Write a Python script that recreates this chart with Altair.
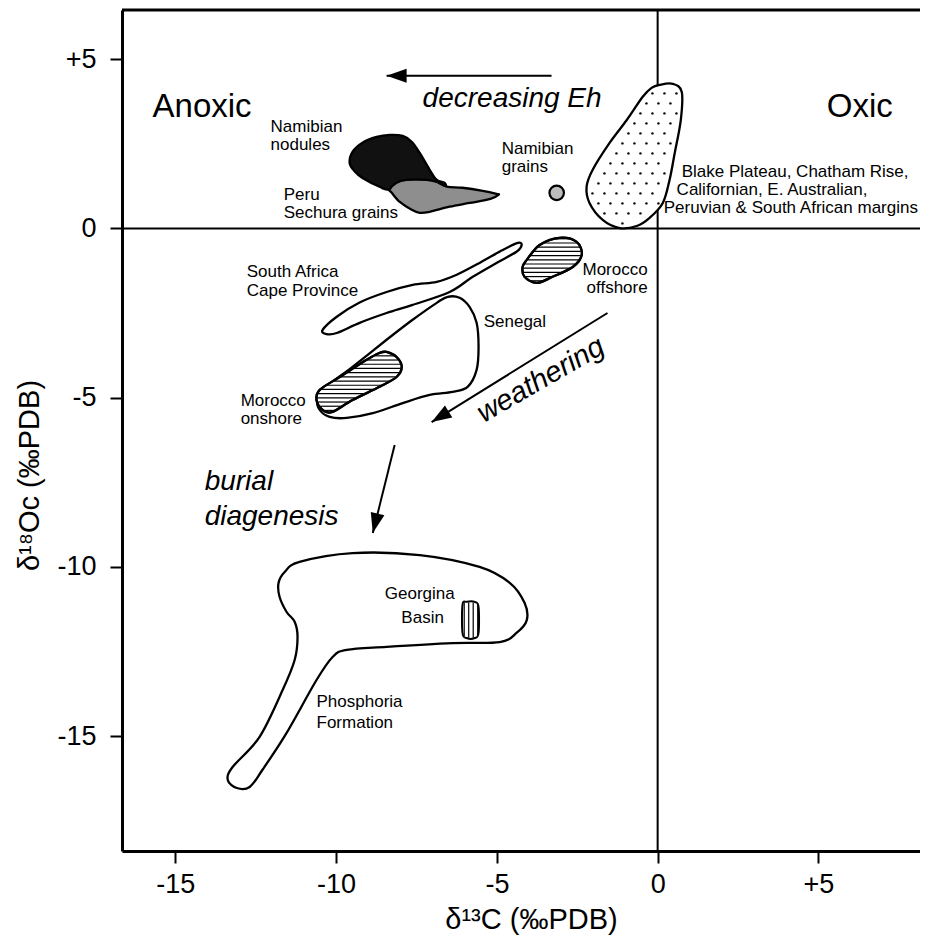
import numpy as np
import pandas as pd
import altair as alt

# ---------------- axes ----------------
X_DOMAIN = [-16.66, 8.16]
Y_DOMAIN = [-18.39, 6.45]
PLOT_W, PLOT_H = 798, 841
TICKS = [-15, -10, -5, 0, 5]
FONT = "Liberation Sans"

# ---------------- field outlines (δ13C, δ18O ‰ PDB) ----------------
nodules_c = [-9.58, -9.49, -9.18, -8.74, -8.34, -7.93, -7.65, -7.40, -7.09, -6.87, -6.62, -6.69, -7.62, -8.34, -8.65, -9.18, -9.42]
nodules_o = [1.93, 2.26, 2.53, 2.70, 2.76, 2.73, 2.56, 2.23, 1.73, 1.43, 1.34, 1.20, 1.23, 1.14, 1.23, 1.49, 1.68]

peru_c = [-8.34, -8.12, -7.81, -7.19, -6.87, -6.56, -6.07, -5.44, -5.01, -4.95, -5.20, -5.85, -6.47, -7.09, -7.40, -7.65, -8.02, -8.27]
peru_o = [1.14, 1.35, 1.43, 1.43, 1.37, 1.23, 1.20, 1.11, 1.02, 0.99, 0.87, 0.75, 0.64, 0.49, 0.46, 0.55, 0.78, 1.05]

blake_c = [0.06, 0.47, 0.75, 0.72, 0.53, 0.37, 0.16, -0.25, -0.65, -1.18, -1.71, -2.12, -2.21, -2.02, -1.49, -0.96, -0.47, -0.19]
blake_o = [4.24, 4.27, 4.03, 3.20, 2.22, 1.43, 0.75, 0.31, 0.07, 0.01, 0.25, 0.75, 1.23, 1.73, 2.53, 3.20, 3.88, 4.15]

safrica_c = [-10.42, -9.98, -9.27, -8.43, -7.62, -6.87, -6.25, -5.54, -4.82, -4.35, -4.23, -4.39, -5.01, -5.75, -6.47, -7.62, -8.43, -9.27, -9.98, -10.30]
safrica_o = [-3.00, -2.61, -2.19, -1.88, -1.67, -1.58, -1.37, -1.02, -0.64, -0.43, -0.49, -0.69, -1.02, -1.43, -1.88, -2.26, -2.50, -2.79, -3.09, -3.12]

senegal_c = [-6.53, -6.16, -5.85, -5.63, -5.57, -5.63, -5.91, -6.38, -7.09, -7.93, -8.86, -9.67, -10.20, -10.51, -10.58, -10.30, -9.49, -8.43, -7.62, -6.87]
senegal_o = [-2.02, -2.05, -2.32, -2.79, -3.50, -4.18, -4.68, -4.83, -4.92, -5.16, -5.46, -5.60, -5.57, -5.36, -5.07, -4.68, -4.09, -3.29, -2.70, -2.20]

moron_c = [-8.43, -8.12, -7.96, -8.12, -8.65, -9.49, -10.11, -10.42, -10.61, -10.51, -9.89, -9.05, -8.65]
moron_o = [-3.65, -3.80, -4.09, -4.39, -4.68, -5.07, -5.42, -5.36, -5.07, -4.77, -4.39, -3.88, -3.68]

moroff_c = [-4.07, -3.67, -3.05, -2.52, -2.36, -2.64, -3.27, -3.76, -4.14, -4.20]
moroff_o = [-0.93, -0.49, -0.28, -0.40, -0.78, -1.14, -1.43, -1.61, -1.43, -1.14]

phos_c = [-11.14, -9.49, -7.40, -5.54, -4.60, -4.14, -4.07, -4.39, -4.91, -6.38, -8.43, -9.67, -10.11, -10.61,
          -11.54, -12.29, -12.69, -13.09, -13.37, -13.22, -12.38, -11.66, -11.29, -11.20, -11.29, -11.54, -11.76, -11.79, -11.60]
phos_o = [-9.85, -9.59, -9.65, -10.00, -10.47, -11.06, -11.57, -11.95, -12.22, -12.25, -12.36, -12.45, -12.66, -13.34,
          -14.90, -15.99, -16.50, -16.53, -16.29, -15.91, -15.02, -13.63, -12.75, -12.07, -11.62, -11.33, -10.88, -10.47, -10.15]

georgina_c = [-6.07, -5.94, -5.69, -5.57, -5.57, -5.69, -5.94, -6.07]
georgina_o = [-11.12, -11.03, -11.03, -11.18, -11.95, -12.10, -12.10, -11.95]

grains_c = [-3.14]
grains_o = [1.05]

# ---------------- labels ----------------
small_left_text = ["Namibian", "nodules", "Peru", "Sechura grains", "Namibian", "grains",
                   "Blake Plateau, Chatham Rise,", "Californian, E. Australian,", "Peruvian & South African margins",
                   "South Africa", "Cape Province", "Senegal", "Morocco", "onshore", "Phosphoria", "Formation"]
small_left_c = [-12.04, -12.04, -11.63, -11.63, -4.85, -4.85, 0.75, 0.59, 0.19,
                -12.78, -12.78, -5.41, -12.97, -12.97, -10.61, -10.61]
small_left_o = [2.85, 2.32, 0.83, 0.30, 2.20, 1.67, 1.52, 0.99, 0.46,
                -1.43, -1.99, -2.91, -5.24, -5.78, -14.14, -14.76]

small_right_text = ["Morocco", "offshore"]
small_right_c = [-0.31, -0.31]
small_right_o = [-1.37, -1.91]

small_center_text = ["Georgina", "Basin"]
small_center_c = [-7.40, -7.31]
small_center_o = [-10.94, -11.65]

big_text = ["Anoxic", "Oxic"]
big_c = [-15.71, 5.26]
big_o = [3.29, 3.29]

italic_text = ["decreasing Eh", "burial", "diagenesis"]
italic_c = [-7.31, -14.09, -14.09]
italic_o = [3.59, -7.73, -8.76]

weather_text = ["weathering"]
weather_c = [-3.50]
weather_o = [-4.70]

# arrows: start -> tip
arrow_c0 = [-3.30, -1.56, -8.18]
arrow_o0 = [4.51, -2.50, -6.40]
arrow_c1 = [-8.43, -7.03, -8.86]
arrow_o1 = [4.51, -5.72, -9.00]

# ---------------- helpers ----------------
PX = PLOT_W / (X_DOMAIN[1] - X_DOMAIN[0])
PY = PLOT_H / (Y_DOMAIN[1] - Y_DOMAIN[0])


def poly_df(cs, os_):
    return pd.DataFrame({"x": cs, "y": os_, "i": range(len(cs))})


def densify(cs, os_, n=16):
    P = np.column_stack([np.array(cs) * PX, np.array(os_) * PY])
    m = len(P)
    out = []
    for k in range(m):
        p0, p1, p2, p3 = P[(k - 1) % m], P[k], P[(k + 1) % m], P[(k + 2) % m]
        c1 = p1 + (p2 - p0) / 6.0
        c2 = p2 - (p3 - p1) / 6.0
        for t in np.linspace(0, 1, n, endpoint=False):
            out.append((1 - t) ** 3 * p1 + 3 * (1 - t) ** 2 * t * c1 + 3 * (1 - t) * t ** 2 * c2 + t ** 3 * p2)
    return np.array(out)


def scan(poly, axis, step, inset=1.0):
    a0 = poly[:, axis]
    b0 = poly[:, 1 - axis]
    a1 = np.roll(a0, -1)
    b1 = np.roll(b0, -1)
    res = []
    for lv in np.arange(a0.min() + step / 2, a0.max(), step):
        msk = ((a0 <= lv) & (a1 > lv)) | ((a1 <= lv) & (a0 > lv))
        bi = np.sort(b0[msk] + (lv - a0[msk]) * (b1[msk] - b0[msk]) / (a1[msk] - a0[msk]))
        for u, v in zip(bi[::2], bi[1::2]):
            if v - u > 2 * inset + 1:
                res.append((lv, u + inset, v - inset))
    return res


def hatch_h(cs, os_, step=4.2):
    rows = scan(densify(cs, os_), 1, step)
    return pd.DataFrame({"y": [r[0] / PY for r in rows], "x": [r[1] / PX for r in rows], "x2": [r[2] / PX for r in rows]})


def hatch_v(cs, os_, step=4.5):
    rows = scan(densify(cs, os_), 0, step)
    return pd.DataFrame({"x": [r[0] / PX for r in rows], "y": [r[1] / PY for r in rows], "y2": [r[2] / PY for r in rows]})


def inside(pt, poly):
    x, y = pt
    xs, ys = poly[:, 0], poly[:, 1]
    xs2, ys2 = np.roll(xs, -1), np.roll(ys, -1)
    cond = (ys > y) != (ys2 > y)
    xint = xs + (y - ys) * (xs2 - xs) / np.where(ys2 - ys == 0, 1e-9, ys2 - ys)
    return np.count_nonzero(cond & (x < xint)) % 2 == 1


def dots(cs, os_, dx=12.0, dy=10.0, margin=4.0):
    poly = densify(cs, os_)
    xs, ys = [], []
    y0, y1 = poly[:, 1].min(), poly[:, 1].max()
    x0, x1 = poly[:, 0].min(), poly[:, 0].max()
    for r, yy in enumerate(np.arange(y0 + dy / 2, y1, dy)):
        off = (dx / 2) if r % 2 else 0.0
        for xx in np.arange(x0 + off, x1, dx):
            ok = all(inside((xx + ex, yy + ey), poly) for ex, ey in
                     [(0, 0), (margin, 0), (-margin, 0), (0, margin), (0, -margin)])
            if ok:
                xs.append(xx / PX)
                ys.append(yy / PY)
    return pd.DataFrame({"x": xs, "y": ys})


# ---------------- encodings ----------------
LABEL_EXPR = "datum.value > 0 ? '+' + datum.value : '' + datum.value"
common_axis = dict(values=TICKS, grid=False, tickSize=12, tickWidth=2, tickColor="black",
                   domainWidth=3, domainColor="black", labelFont=FONT, labelFontSize=27,
                   labelColor="black", titleFont=FONT, titleFontSize=29, titleFontWeight="normal",
                   titleColor="black", labelExpr=LABEL_EXPR, labelFlush=False, labelOverlap=False)
x_axis = alt.Axis(title="δ¹³C  (‰PDB)", labelPadding=8, titleX=409, titleY=77,
                  titleBaseline="alphabetic", **common_axis)
y_axis = alt.Axis(title="δ¹⁸Oc  (‰PDB)", labelPadding=14, titleX=-84, titleY=465,
                  titleAngle=270, titleBaseline="alphabetic", titleAlign="center", **common_axis)

X = alt.X("x:Q", scale=alt.Scale(domain=X_DOMAIN, nice=False, zero=False), axis=x_axis)
Y = alt.Y("y:Q", scale=alt.Scale(domain=Y_DOMAIN, nice=False, zero=False), axis=y_axis)


def shape_layer(cs, os_, fill, sw=2.3):
    kw = dict(interpolate="cardinal-closed", stroke="black", strokeWidth=sw, strokeJoin="round")
    if fill is not None:
        kw["fill"] = fill
    return alt.Chart(poly_df(cs, os_)).mark_line(**kw).encode(x=X, y=Y, order=alt.Order("i:Q"))


def hline_layer(df, sw=1.2):
    return alt.Chart(df).mark_rule(stroke="black", strokeWidth=sw).encode(x=X, x2=alt.X2("x2:Q"), y=Y)


def vline_layer(df, sw=1.2):
    return alt.Chart(df).mark_rule(stroke="black", strokeWidth=sw).encode(x=X, y=Y, y2=alt.Y2("y2:Q"))


def text_layer(texts, cs, os_, align, size, style="normal", angle=None):
    kw = dict(align=align, baseline="alphabetic", font=FONT, fontSize=size, color="black", fontStyle=style)
    if angle is not None:
        kw["angle"] = angle
    df = pd.DataFrame({"t": texts, "x": cs, "y": os_})
    return alt.Chart(df).mark_text(**kw).encode(x=X, y=Y, text="t:N")


layers = []
# frame top and zero lines
layers.append(alt.Chart(pd.DataFrame({"y": [Y_DOMAIN[1]]})).mark_rule(stroke="black", strokeWidth=3).encode(y=Y))
layers.append(alt.Chart(pd.DataFrame({"y": [0.0]})).mark_rule(stroke="black", strokeWidth=2).encode(y=Y))
layers.append(alt.Chart(pd.DataFrame({"x": [0.0]})).mark_rule(stroke="black", strokeWidth=2).encode(x=X))

# outline-only fields
layers.append(shape_layer(safrica_c, safrica_o, None))
layers.append(shape_layer(senegal_c, senegal_o, None))
layers.append(shape_layer(phos_c, phos_o, None))

# filled fields
layers.append(shape_layer(nodules_c, nodules_o, "#111111"))
layers.append(shape_layer(peru_c, peru_o, "#8e8e8e"))
layers.append(shape_layer(blake_c, blake_o, "white"))
layers.append(alt.Chart(dots(blake_c, blake_o)).mark_circle(color="black", size=6, opacity=1).encode(x=X, y=Y))

# hatched fields
layers.append(shape_layer(moron_c, moron_o, "white"))
layers.append(hline_layer(hatch_h(moron_c, moron_o)))
layers.append(shape_layer(moron_c, moron_o, "transparent"))
layers.append(shape_layer(moroff_c, moroff_o, "white"))
layers.append(hline_layer(hatch_h(moroff_c, moroff_o)))
layers.append(shape_layer(moroff_c, moroff_o, "transparent"))
layers.append(shape_layer(georgina_c, georgina_o, "white", sw=2))
layers.append(vline_layer(hatch_v(georgina_c, georgina_o)))

# Namibian grains
layers.append(alt.Chart(pd.DataFrame({"x": grains_c, "y": grains_o})).mark_point(
    shape="circle", filled=True, fill="#bdbdbd", stroke="black", strokeWidth=2.2, size=210, opacity=1
).encode(x=X, y=Y))

# arrows
arrows = pd.DataFrame({"x": arrow_c0, "y": arrow_o0, "x2": arrow_c1, "y2": arrow_o1})
arrows["ang"] = [float(np.degrees(np.arctan2((b - a) * PX, (d - c) * PY))) % 360
                 for a, b, c, d in zip(arrow_c0, arrow_c1, arrow_o0, arrow_o1)]
layers.append(alt.Chart(arrows).mark_rule(stroke="black", strokeWidth=2).encode(
    x=X, y=Y, x2=alt.X2("x2:Q"), y2=alt.Y2("y2:Q")))
heads = pd.DataFrame({"x": arrow_c1, "y": arrow_o1, "ang": arrows["ang"]})
layers.append(alt.Chart(heads).mark_point(
    shape="M0,0L-0.7,2L0.7,2Z", filled=True, fill="black", strokeWidth=0, size=400, opacity=1
).encode(x=X, y=Y, angle=alt.Angle("ang:Q", scale=None)))

# texts
layers.append(text_layer(small_left_text, small_left_c, small_left_o, "left", 17))
layers.append(text_layer(small_right_text, small_right_c, small_right_o, "right", 17))
layers.append(text_layer(small_center_text, small_center_c, small_center_o, "center", 17))
layers.append(text_layer(big_text, big_c, big_o, "left", 33))
layers.append(text_layer(italic_text, italic_c, italic_o, "left", 28, style="italic"))
layers.append(text_layer(weather_text, weather_c, weather_o, "center", 29, style="italic", angle=330))

chart = alt.layer(*layers).properties(
    width=PLOT_W, height=PLOT_H,
    autosize=alt.AutoSizeParams(type="none"),
    padding={"left": 114, "top": 2, "right": 0, "bottom": 85},
).configure_view(stroke=None)

chart.save("out.html", embed_options={"renderer": "svg", "actions": False})
